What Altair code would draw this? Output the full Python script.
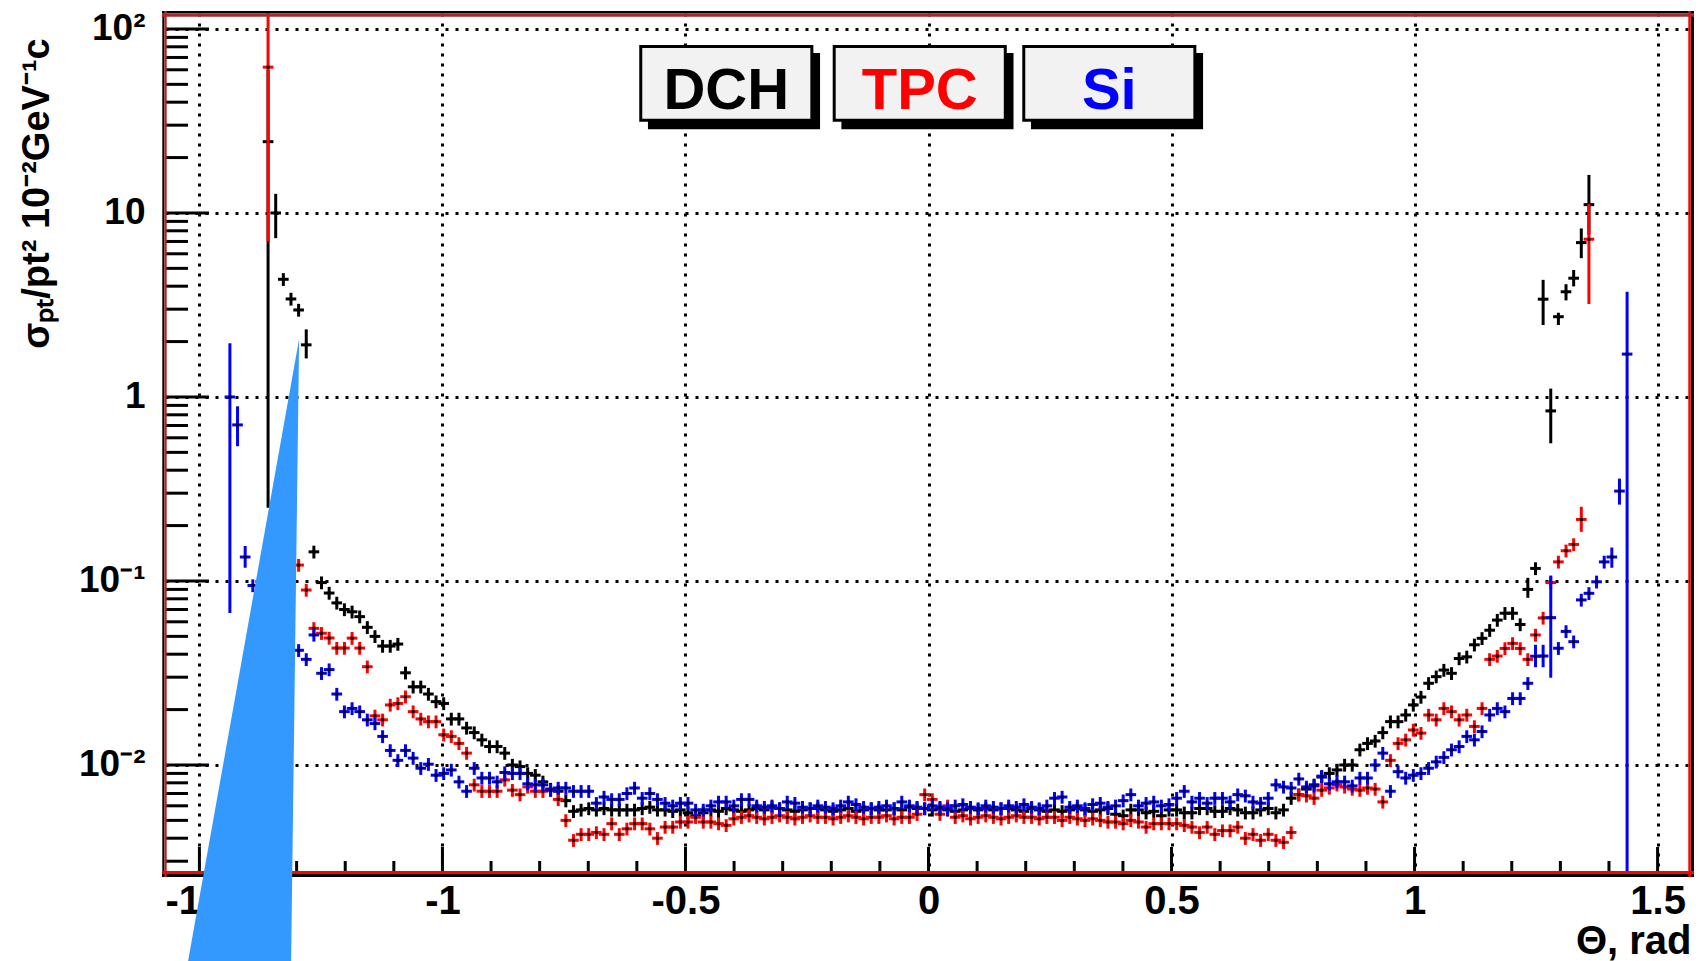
import math
import pandas as pd
import altair as alt

# ---------------------------------------------------------------------------
# Relative transverse-momentum resolution versus polar angle, per tracker.
# Theta is binned in 200 equal bins over [-pi/2, pi/2]; each list starts at
# the bin index given by *_FIRST (None = empty bin).
# ---------------------------------------------------------------------------
N_BINS = 200
THETA_MIN, THETA_MAX = -math.pi / 2, math.pi / 2
BIN_W = (THETA_MAX - THETA_MIN) / N_BINS
Y_MIN, Y_MAX = 0.002556, 122.1

DCH_FIRST = 13
DCH = [
    24.4, 10.0, 4.36, 3.41, 2.97, 1.92, 0.144, 0.098, 0.086, 0.076,          # 13-22
    0.070, 0.068, 0.064, 0.056, 0.050, 0.0443, 0.0443, 0.0454, 0.0317, 0.0266,  # 23-32
    0.0266, 0.0243, 0.0221, 0.0216, 0.0178, 0.0178, 0.0159, 0.0150, 0.0137, 0.0126,  # 33-42
    0.0126, 0.0116, 0.0100, 0.0098, 0.0090, 0.0088, 0.0081, 0.0074, 0.0072, 0.0064,  # 43-52
    0.0056, 0.0057, 0.0058, 0.0057, 0.0058, 0.0057, 0.0057, 0.0057, 0.0057, 0.0058,  # 53-62
    0.0059, 0.0057, 0.0057, 0.0056, 0.0057, 0.0055, 0.0053, 0.0055, 0.0057, 0.0056,  # 63-72
    0.0058, 0.0057, 0.0056, 0.0057, 0.0058, 0.0057, 0.0059, 0.0058, 0.0057, 0.0056,  # 73-82
    0.0057, 0.0058, 0.0058, 0.0057, 0.0056, 0.0057, 0.0058, 0.0056, 0.0057, 0.0058,  # 83-92
    0.0057, 0.0057, 0.0058, 0.0057, 0.0059, 0.0058, 0.0058, 0.0057, 0.0058, 0.0057,  # 93-102
    0.0056, 0.0057, 0.0058, 0.0057, 0.0058, 0.0057, 0.0058, 0.0058, 0.0057, 0.0056,  # 103-112
    0.0058, 0.0057, 0.0056, 0.0057, 0.0056, 0.0057, 0.0058, 0.0057, 0.0056, 0.0057,  # 113-122
    0.0058, 0.0054, 0.0053, 0.0057, 0.0057, 0.0055, 0.0056, 0.0053, 0.0057, 0.0057,  # 123-132
    0.0055, 0.0055, 0.0058, 0.0058, 0.0056, 0.0056, 0.0058, 0.0057, 0.0055, 0.0055,  # 133-142
    0.0057, 0.0058, 0.0055, 0.0057, 0.0066, 0.0069, 0.0074, 0.0078, 0.0086, 0.0090,  # 143-152
    0.0094, 0.0100, 0.0100, 0.0121, 0.0131, 0.0135, 0.0150, 0.0172, 0.0172, 0.0187,  # 153-162
    0.0212, 0.0234, 0.0278, 0.0302, 0.0328, 0.0315, 0.0379, 0.0387, 0.0450, 0.0488,  # 163-172
    0.0540, 0.0613, 0.0668, 0.0668, 0.0580, 0.090, 0.117, 3.40, 0.84, 2.73,          # 173-182
    3.73, 4.42, 6.90, 11.1,                                                        # 183-186
]

TPC_FIRST = 13
TPC = [
    62.0, None, None, None, 0.122, 0.0893, 0.0553, 0.052, 0.049, 0.0432,       # 13-22
    0.0432, 0.0489, 0.0432, 0.0342, 0.0185, 0.0176, 0.0212, 0.0216, 0.0235, 0.0195,  # 23-32
    0.0178, 0.0172, 0.0172, 0.0146, 0.0143, 0.0131, 0.0116, 0.0078, 0.0072, 0.0072,  # 33-42
    0.0072, 0.0083, 0.0073, 0.0069, 0.0076, 0.0072, 0.0072, 0.0073, 0.0065, 0.0050,  # 43-52
    0.0039, 0.0042, 0.0042, 0.0043, 0.0042, 0.0048, 0.0042, 0.0045, 0.0048, 0.0048,  # 53-62
    0.0045, 0.0040, 0.0046, 0.0046, 0.0049, 0.0049, 0.0052, 0.0049, 0.0049, 0.0048,  # 63-72
    0.0047, 0.0051, 0.0052, 0.0053, 0.0052, 0.0051, 0.0052, 0.0053, 0.0052, 0.0051,  # 73-82
    0.0052, 0.0053, 0.0052, 0.0052, 0.0051, 0.0052, 0.0053, 0.0052, 0.0051, 0.0052,  # 83-92
    0.0052, 0.0053, 0.0051, 0.0052, 0.0052, 0.0054, 0.0069, 0.0065, 0.0054, 0.0060,  # 93-102
    0.0052, 0.0053, 0.0051, 0.0052, 0.0053, 0.0052, 0.0051, 0.0052, 0.0053, 0.0052,  # 103-112
    0.0052, 0.0051, 0.0052, 0.0052, 0.0050, 0.0052, 0.0051, 0.0050, 0.0051, 0.0050,  # 113-122
    0.0049, 0.0049, 0.0048, 0.0050, 0.0049, 0.0046, 0.0048, 0.0048, 0.0048, 0.0048,  # 123-132
    0.0047, 0.0046, 0.0043, 0.0046, 0.0042, 0.0044, 0.0044, 0.0046, 0.0040, 0.0042,  # 133-142
    0.0039, 0.0042, 0.0039, 0.0038, 0.0043, 0.0069, 0.0068, 0.0066, 0.0073, 0.0075,  # 143-152
    0.0078, 0.0076, 0.0074, 0.0073, 0.0075, 0.0074, 0.0063, 0.0106, 0.0131, 0.0137,  # 153-162
    0.0155, 0.0149, 0.0187, 0.0176, 0.0203, 0.0195, 0.0176, 0.0187, 0.0162, 0.0203,  # 163-172
    0.0375, 0.0391, 0.0430, 0.0458, 0.0430, 0.0375, 0.0509, 0.063, 0.098, 0.127,     # 173-182
    0.146, 0.158, 0.216, 7.2,                                                      # 183-186
]

SI_FIRST = 8
SI = [
    1.0, 0.705, 0.135, 0.0945, None, None, None, None, None, 0.042,            # 8-17
    0.0375, 0.0509, 0.0315, 0.033, 0.0243, 0.0195, 0.0203, 0.0195, 0.0176, 0.0168,  # 18-27
    0.0143, 0.0120, 0.0106, 0.0120, 0.0109, 0.0096, 0.0101, 0.0088, 0.0090, 0.0094,  # 28-37
    0.0081, 0.0072, 0.0096, 0.0085, 0.0085, 0.0081, 0.0091, 0.0090, 0.0090, 0.0079,  # 38-47
    0.0078, 0.0078, 0.0073, 0.0075, 0.0075, 0.0072, 0.0072, 0.0072, 0.0062, 0.0067,  # 48-57
    0.0065, 0.0065, 0.0070, 0.0075, 0.0066, 0.0070, 0.0065, 0.0062, 0.0060, 0.0062,  # 58-67
    0.0062, 0.0057, 0.0057, 0.0060, 0.0063, 0.0063, 0.0060, 0.0065, 0.0065, 0.0060,  # 68-77
    0.0059, 0.0060, 0.0058, 0.0063, 0.0062, 0.0059, 0.0058, 0.0060, 0.0059, 0.0058,  # 78-87
    0.0060, 0.0063, 0.0061, 0.0059, 0.0058, 0.0059, 0.0060, 0.0058, 0.0063, 0.0060,  # 88-97
    0.0059, 0.0058, 0.0060, 0.0059, 0.0058, 0.0060, 0.0061, 0.0059, 0.0058, 0.0060,  # 98-107
    0.0059, 0.0058, 0.0060, 0.0059, 0.0061, 0.0059, 0.0058, 0.0060, 0.0066, 0.0067,  # 108-117
    0.0059, 0.0060, 0.0058, 0.0061, 0.0062, 0.0059, 0.0060, 0.0064, 0.0069, 0.0060,  # 118-127
    0.0062, 0.0063, 0.0060, 0.0061, 0.0066, 0.0072, 0.0063, 0.0066, 0.0062, 0.0066,  # 128-137
    0.0066, 0.0063, 0.0069, 0.0068, 0.0063, 0.0062, 0.0066, 0.0078, 0.0076, 0.0075,  # 138-147
    0.0084, 0.0076, 0.0077, 0.0087, 0.0079, 0.0081, 0.0081, 0.0077, 0.0085, 0.0085,  # 148-157
    0.0100, 0.0116, 0.0072, 0.0092, 0.0085, 0.0088, 0.0090, 0.0096, 0.0104, 0.0110,  # 158-167
    0.0121, 0.0126, 0.0143, 0.0137, 0.0152, 0.0187, 0.0203, 0.0195, 0.0230, 0.0230,  # 168-177
    0.0278, 0.0390, 0.0391, 0.0632, 0.0431, 0.0532, 0.0468, 0.0789, 0.0857, 0.0990,  # 178-187
    0.127, 0.135, 0.308, 1.71,                                                     # 188-191
]

# Error bars: most points carry a bar of about +-8 %; the wider ones are listed
# explicitly as (low, high).
TYPICAL_REL_ERR = 0.08
DCH_ERR = {13: (0.25, 60.0), 14: (7.3, 12.7), 18: (1.62, 2.33), 178: (0.081, 0.104),
           180: (2.46, 4.33), 181: (0.56, 1.11), 182: (2.46, 2.87), 183: (3.35, 4.1),
           184: (3.99, 4.9), 185: (5.68, 8.24), 186: (7.6, 16.1)}
TPC_ERR = {13: (7.0, 500.0), 185: (0.185, 0.253), 186: (3.2, 11.2)}
SI_ERR = {8: (0.067, 1.96), 9: (0.54, 0.89), 10: (0.118, 0.155), 179: (0.034, 0.045),
          180: (0.034, 0.045), 181: (0.0298, 0.107), 189: (0.118, 0.152),
          190: (0.26, 0.36), 191: (0.001, 3.73)}

SERIES = [("DCH", DCH_FIRST, DCH, DCH_ERR, "#000000"),
          ("TPC", TPC_FIRST, TPC, TPC_ERR, "#ff0000"),
          ("Si", SI_FIRST, SI, SI_ERR, "#0000ff")]

X_MAJOR = [-1.5, -1.0, -0.5, 0.0, 0.5, 1.0, 1.5]
X_MINOR = [-1.4, -1.3, -1.2, -1.1, -0.9, -0.8, -0.7, -0.6, -0.4, -0.3, -0.2, -0.1,
           0.1, 0.2, 0.3, 0.4, 0.6, 0.7, 0.8, 0.9, 1.1, 1.2, 1.3, 1.4]
Y_MAJOR = [0.01, 0.1, 1.0, 10.0, 100.0]
Y_MINOR = [m * 10.0 ** e for e in range(-3, 2) for m in range(2, 10)
           if Y_MIN < m * 10.0 ** e < Y_MAX]

# Annotation pad in the upper middle (theta / sigma coordinates)
LEGEND_TEXT = ["DCH", "TPC", "Si"]
LEGEND_COLOR = ["#000000", "#ff0000", "#0000ff"]
BOX_LEFT = [-0.592, -0.194, 0.196]
BOX_WIDTH = 0.352
BOX_TOP, BOX_BOTTOM = 80.3, 31.9
SHADOW_DX_L, SHADOW_DX_R = 0.0148, 0.0169
SHADOW_TOP, SHADOW_BOTTOM = 74.1, 28.5
TEXT_BASE = 36.7

# Filled wedge drawn over the left edge
WEDGE_Y = [2.066, 0.000861]
WEDGE_LEFT = [-1.2949, -1.5233]
WEDGE_RIGHT = [-1.2949, -1.3113]

W, H = 1527, 861
FONT = "Liberation Sans, Arial, sans-serif"


def series_frame(first, values, errs):
    rows = []
    for k, v in enumerate(values):
        if v is None:
            continue
        i = first + k
        t = THETA_MIN + (i + 0.5) * BIN_W
        lo, hi = errs.get(i, (v * (1 - TYPICAL_REL_ERR), v * (1 + TYPICAL_REL_ERR)))
        rows.append(dict(theta=t, tl=t - BIN_W / 2, tr=t + BIN_W / 2, v=v, lo=lo, hi=hi))
    return pd.DataFrame(rows)


XS = alt.Scale(domain=[THETA_MIN, THETA_MAX], nice=False, zero=False)
YS = alt.Scale(type="log", domain=[Y_MIN, Y_MAX], nice=False)

X_AXIS = alt.Axis(
    values=X_MAJOR, labelExpr="'' + datum.value", ticks=False, domain=False,
    grid=True, gridColor="black", gridDash=[3, 7], gridWidth=3, gridOpacity=1,
    labelFont=FONT, labelFontSize=40, labelFontWeight="bold", labelColor="black",
    labelPadding=7, labelFlush=False, labelOverlap=False,
    title="Θ, rad", titleFont=FONT, titleFontSize=40, titleFontWeight="bold",
    titleColor="black", titleAlign="right", titleBaseline="alphabetic",
    titleX=W - 1, titleY=79, titleAnchor="end",
)
Y_AXIS = alt.Axis(
    values=Y_MAJOR,
    labelExpr=("datum.value >= 100 ? '10²' : datum.value >= 10 ? '10' : "
               "datum.value >= 1 ? '1' : datum.value >= 0.1 ? '10⁻¹' : '10⁻²'"),
    ticks=False, domain=False,
    grid=True, gridColor="black", gridDash=[3, 7], gridWidth=3, gridOpacity=1,
    labelFont=FONT, labelFontSize=37, labelFontWeight="bold", labelColor="black",
    labelPadding=20, labelFlush=False, labelOverlap=False,
    title="σₚₜ/pt² 10⁻²GeV⁻¹c", titleFont=FONT, titleFontSize=38,
    titleFontWeight="bold", titleColor="black", titleAngle=270,
    titleX=-117, titleY=180, titleAlign="center", titleBaseline="alphabetic",
)


def X(field):
    return alt.X(f"{field}:Q", scale=XS, axis=X_AXIS)


def Y(field):
    return alt.Y(f"{field}:Q", scale=YS, axis=Y_AXIS)


layers = []

# tick marks drawn inward from the left and bottom edges
ymaj = pd.DataFrame({"y": Y_MAJOR})
ymin = pd.DataFrame({"y": Y_MINOR})
xmaj = pd.DataFrame({"x": X_MAJOR})
xmin = pd.DataFrame({"x": X_MINOR})
layers.append(alt.Chart(ymin).mark_rule(color="black", strokeWidth=3).encode(
    y=Y("y"), x=alt.value(0), x2=alt.value(23)))
layers.append(alt.Chart(ymaj).mark_rule(color="black", strokeWidth=3).encode(
    y=Y("y"), x=alt.value(0), x2=alt.value(44)))
layers.append(alt.Chart(xmin).mark_rule(color="black", strokeWidth=3).encode(
    x=X("x"), y=alt.value(H - 13), y2=alt.value(H)))
layers.append(alt.Chart(xmaj).mark_rule(color="black", strokeWidth=3).encode(
    x=X("x"), y=alt.value(H - 27), y2=alt.value(H)))

# data: error bars plus a small black marker per bin
for name, first, vals, errs, col in SERIES:
    df = series_frame(first, vals, errs)
    base = alt.Chart(df)
    layers.append(base.mark_rule(color=col, strokeWidth=3, clip=True).encode(
        x=X("theta"), y=Y("lo"), y2="hi:Q"))
    layers.append(base.mark_rule(color=col, strokeWidth=3, strokeCap="square", clip=True).encode(
        x=X("tl"), x2="tr:Q", y=Y("v")))
    layers.append(base.mark_square(color="black", size=9, opacity=1, clip=True).encode(
        x=X("theta"), y=Y("v")))

# annotation pad: shadow, box, label
leg = pd.DataFrame({
    "label": LEGEND_TEXT,
    "color": LEGEND_COLOR,
    "x0": BOX_LEFT,
    "x1": [b + BOX_WIDTH for b in BOX_LEFT],
    "xs0": [b + SHADOW_DX_L for b in BOX_LEFT],
    "xs1": [b + BOX_WIDTH + SHADOW_DX_R for b in BOX_LEFT],
    "xc": [b + BOX_WIDTH / 2 for b in BOX_LEFT],
    "yt": [BOX_TOP] * 3, "yb": [BOX_BOTTOM] * 3,
    "yst": [SHADOW_TOP] * 3, "ysb": [SHADOW_BOTTOM] * 3,
    "ytext": [TEXT_BASE] * 3,
})
lbase = alt.Chart(leg)
layers.append(lbase.mark_rect(color="black").encode(
    x=X("xs0"), x2="xs1:Q", y=Y("yst"), y2="ysb:Q"))
layers.append(lbase.mark_rect(fill="#f2f2f2", stroke="black", strokeWidth=3).encode(
    x=X("x0"), x2="x1:Q", y=Y("yt"), y2="yb:Q"))
layers.append(lbase.mark_text(font=FONT, fontSize=58, fontWeight="bold",
                              baseline="alphabetic", align="center").encode(
    x=X("xc"), y=Y("ytext"), text="label:N",
    color=alt.Color("color:N", scale=None)))

# frame: black outline with a red inner border
one = pd.DataFrame({"k": [0]})
frame = [
    (-1.7, 2.0, "#000000", "v"), (W + 0.3, 3.3, "#000000", "v"),
    (-0.8, 2.3, "#000000", "h"), (H + 1.5, 3.0, "#000000", "h"),
    (0.5, 2.4, "#a52a2a", "v"), (W - 2.5, 2.4, "#ff0000", "v"),
    (2.0, 3.4, "#a52a2a", "h"), (H - 1.5, 3.0, "#ff0000", "h"),
]
for pos, sw, col, orient in frame:
    if orient == "v":
        enc = dict(x=alt.value(pos), y=alt.value(-2), y2=alt.value(H + 3))
    else:
        enc = dict(y=alt.value(pos), x=alt.value(-3), x2=alt.value(W + 2))
    layers.append(alt.Chart(one).mark_rule(color=col, strokeWidth=sw).encode(**enc))

# wedge on top of everything
wedge = pd.DataFrame({"wy": WEDGE_Y, "wl": WEDGE_LEFT, "wr": WEDGE_RIGHT})
layers.append(alt.Chart(wedge).mark_area(orient="horizontal", color="#3399ff",
                                         opacity=1, clip=False).encode(
    y=Y("wy"), x=X("wl"), x2="wr:Q"))

chart = alt.layer(*layers).properties(
    width=W, height=H,
    autosize=alt.AutoSizeParams(type="none"),
    padding={"left": 165, "top": 13, "right": 8, "bottom": 87},
    background="white",
).configure_view(stroke=None)

chart.save("out.html", embed_options={"renderer": "svg", "actions": False})
